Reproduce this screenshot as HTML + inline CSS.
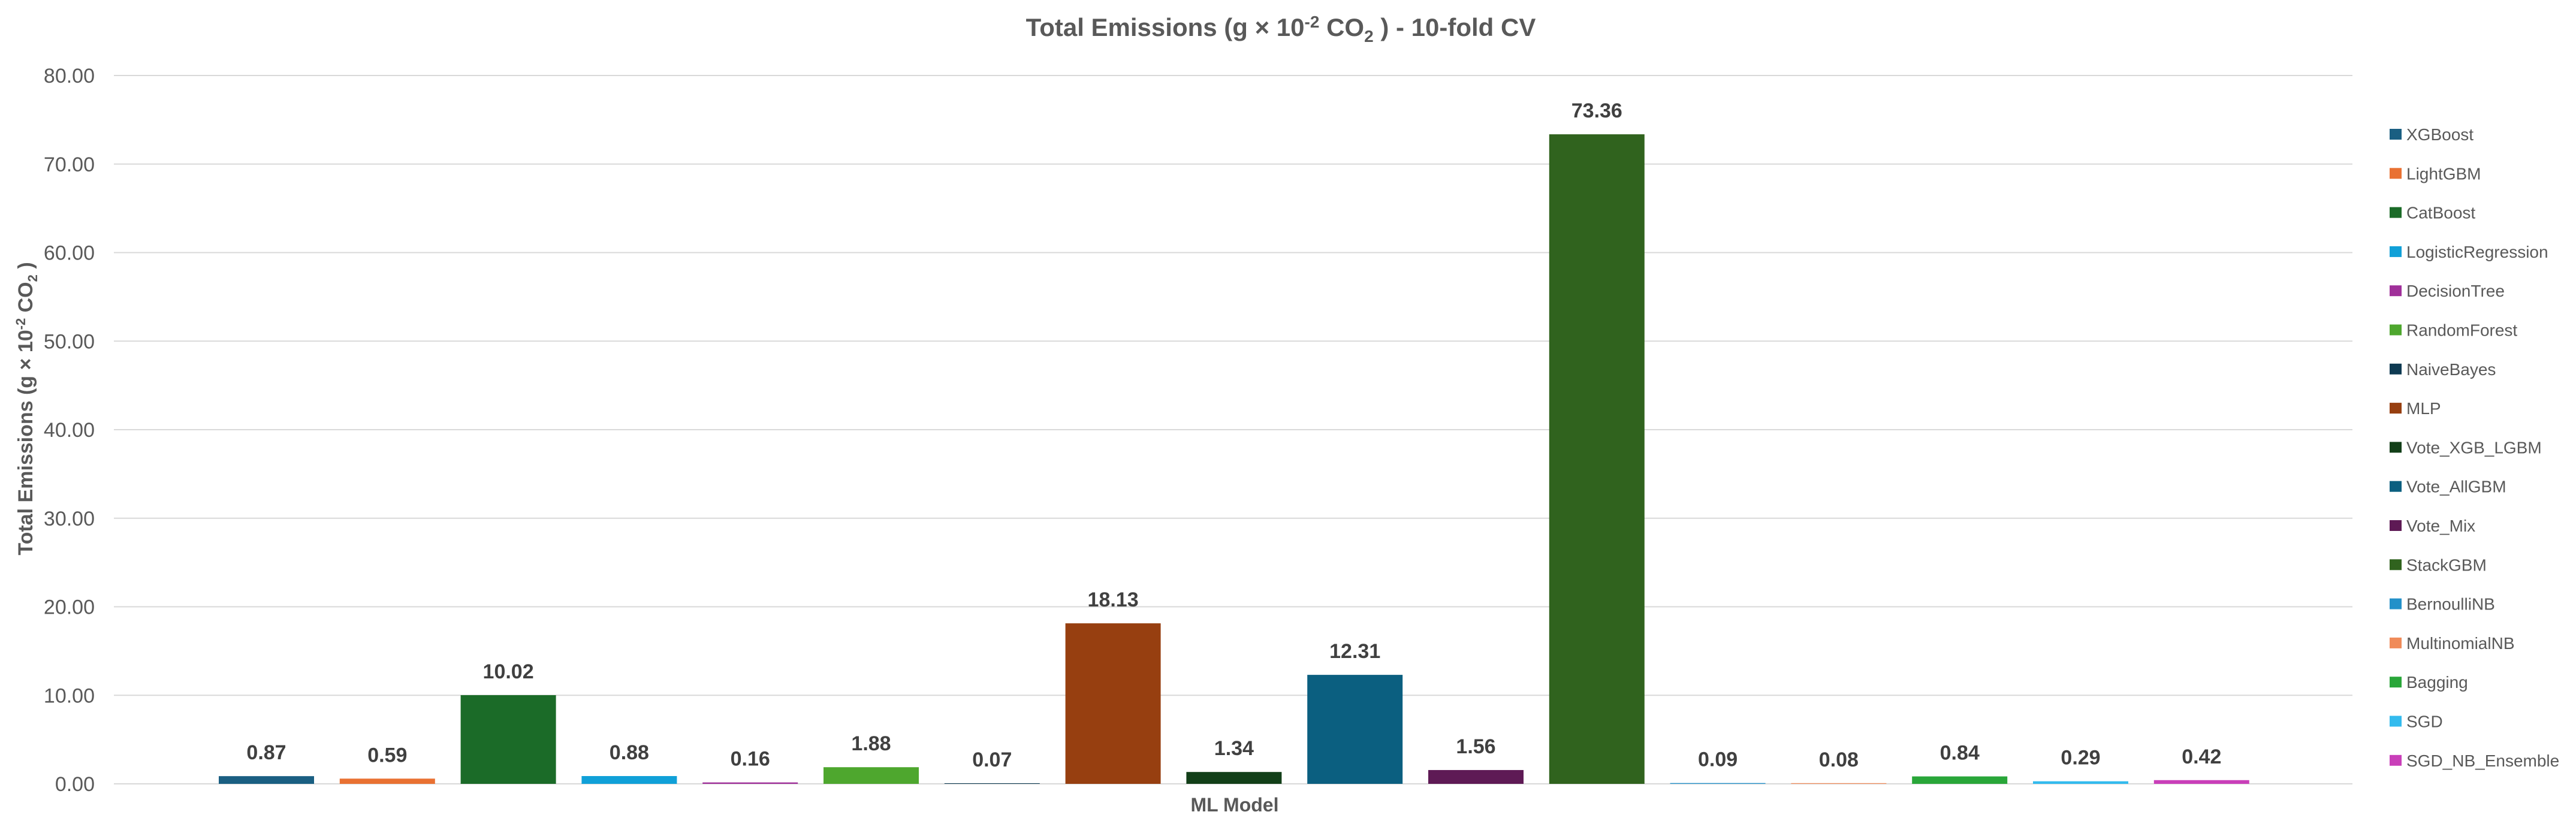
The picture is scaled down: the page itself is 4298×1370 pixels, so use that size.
<!DOCTYPE html>
<html><head><meta charset="utf-8"><style>
html,body{margin:0;padding:0;background:#fff;}
svg{display:block;font-family:"Liberation Sans",sans-serif;}
</style></head><body>
<svg id="chart" width="4298" height="1370" viewBox="0 0 4298 1370">
<text x="2137" y="60" text-anchor="middle" font-size="42" font-weight="bold" fill="#595959">Total Emissions (g × 10<tspan dy="-14" font-size="28">-2</tspan><tspan dy="14"> CO</tspan><tspan dy="10" font-size="28">2</tspan><tspan dy="-10"> ) - 10-fold CV</tspan></text>
<text transform="translate(54,682) rotate(-90)" text-anchor="middle" font-size="34" font-weight="bold" fill="#595959">Total Emissions (g × 10<tspan dy="-12" font-size="22">-2</tspan><tspan dy="12"> CO</tspan><tspan dy="8" font-size="22">2</tspan><tspan dy="-8"> )</tspan></text>
<text x="2060" y="1354" text-anchor="middle" font-size="32" font-weight="bold" fill="#595959">ML Model</text>
<g id="grid"></g><g id="bars"></g><g id="labels"></g><g id="legend"></g>
</svg>
<script>
const categories=["XGBoost","LightGBM","CatBoost","LogisticRegression","DecisionTree","RandomForest","NaiveBayes","MLP","Vote_XGB_LGBM","Vote_AllGBM","Vote_Mix","StackGBM","BernoulliNB","MultinomialNB","Bagging","SGD","SGD_NB_Ensemble"];
const values=[0.87,0.59,10.02,0.88,0.16,1.88,0.07,18.13,1.34,12.31,1.56,73.36,0.09,0.08,0.84,0.29,0.42];
const colors=["#1a5f82","#e97132","#1b6b28","#10a0d8","#a0309a","#4ea72e","#0e3a52","#973f10","#123f18","#0b5f80","#5e1a55","#30631e","#2391c9","#f08b59","#29a639","#33bbee","#c93fb9"];
const yTicks=[0,10,20,30,40,50,60,70,80];
const NS="http://www.w3.org/2000/svg";
const y0=1308,yTop=126,yMax=80,plotL=190,plotR=3925;
function yScale(v){return y0-(v/yMax)*(y0-yTop);}
const firstC=444.5,pitch=201.8,barW=159;
function xScale(i){return firstC+i*pitch;}
function mk(t,a){const e=document.createElementNS(NS,t);for(const k in a)e.setAttribute(k,a[k]);return e;}
const grid=document.getElementById('grid');
yTicks.forEach(t=>{
  const l=mk('line',{x1:plotL,x2:plotR,y1:yScale(t),y2:yScale(t),stroke:"#d9d9d9","stroke-width":2});
  
  
  grid.appendChild(l);
  const tx=mk('text',{x:158,y:yScale(t)+12,"text-anchor":"end","font-size":34,fill:"#595959"});
  tx.textContent=t.toFixed(2);
  
  
  grid.appendChild(tx);
});
const bars=document.getElementById('bars'),labels=document.getElementById('labels'),legend=document.getElementById('legend');
values.forEach((v,i)=>{
  const yt=yScale(v);
  const r=mk('rect',{x:xScale(i)-barW/2,y:yt,width:barW,height:y0-yt,fill:colors[i]});
  
  
  bars.appendChild(r);
  const tx=mk('text',{x:xScale(i),y:yt-28,"text-anchor":"middle","font-size":34,"font-weight":"bold",fill:"#404040"});
  tx.textContent=v.toFixed(2);
  
  
  labels.appendChild(tx);
});
categories.forEach((c,i)=>{
  const cy=224+i*65.3;
  const g=mk('g',{});
  
  
  g.appendChild(mk('rect',{x:3987,y:cy-9,width:20,height:18,fill:colors[i]}));
  const tx=mk('text',{x:4015,y:cy+10,"font-size":28,fill:"#595959"});
  tx.textContent=c;
  g.appendChild(tx);
  legend.appendChild(g);
});
</script>
</body></html>
